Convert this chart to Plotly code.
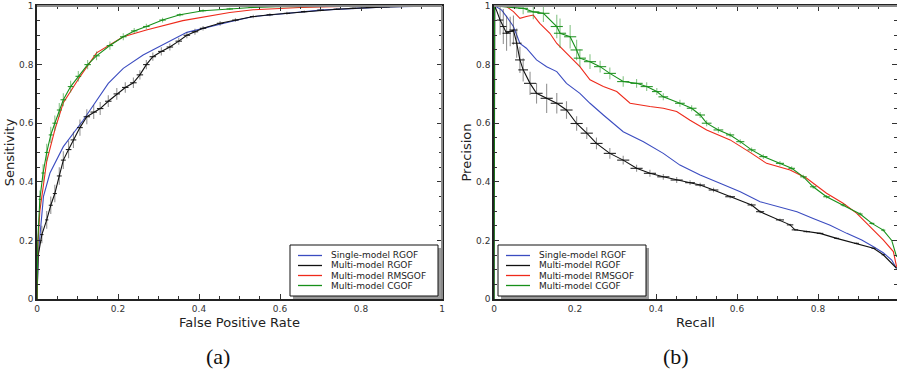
import plotly.graph_objects as go

# ---------------- data: ROC (panel a) ----------------
roc_blue_fpr = [0, 0.003, 0.016, 0.032, 0.065, 0.114, 0.176, 0.213, 0.262, 0.37, 0.477, 0.534, 0.70, 0.863, 1.0]
roc_blue_sens = [0, 0.15, 0.35, 0.43, 0.52, 0.61, 0.736, 0.787, 0.833, 0.91, 0.946, 0.964, 0.986, 0.997, 1.0]

roc_black_fpr = [0, 0.003, 0.012, 0.024, 0.034, 0.044, 0.055, 0.065, 0.078, 0.09, 0.106, 0.123, 0.14, 0.156, 0.176, 0.197,
                 0.218, 0.238, 0.254, 0.27, 0.286, 0.307, 0.328, 0.35, 0.37, 0.39, 0.41, 0.452, 0.49, 0.534, 0.575,
                 0.617, 0.66, 0.70, 0.74, 0.78, 0.82, 0.863, 0.93, 1.0]
roc_black_sens = [0, 0.15, 0.22, 0.27, 0.32, 0.36, 0.42, 0.474, 0.51, 0.543, 0.585, 0.622, 0.638, 0.65, 0.675, 0.70,
                  0.722, 0.738, 0.765, 0.80, 0.827, 0.845, 0.86, 0.88, 0.90, 0.912, 0.924, 0.941, 0.952, 0.964, 0.97,
                  0.975, 0.981, 0.986, 0.989, 0.992, 0.995, 0.997, 0.999, 1.0]
roc_black_errx = [0, 0, 0.004, 0.004, 0.005, 0.005, 0.006, 0.006, 0.007, 0.007, 0.007, 0.008, 0.008, 0.008, 0.008, 0.008,
                  0.008, 0.008, 0.008, 0.008, 0.008, 0.008, 0.008, 0.008, 0.008, 0.008, 0.008, 0.008, 0.008, 0.008, 0.008,
                  0.008, 0.008, 0.008, 0.008, 0.008, 0.008, 0.008, 0, 0]
roc_black_erry = [0, 0, 0.03, 0.03, 0.03, 0.03, 0.03, 0.03, 0.03, 0.028, 0.028, 0.026, 0.024, 0.022, 0.02, 0.02,
                  0.018, 0.018, 0.016, 0.016, 0.014, 0.014, 0.012, 0.012, 0.01, 0.01, 0.008, 0.008, 0.006, 0.006, 0.005,
                  0.005, 0.004, 0.004, 0.003, 0.003, 0.002, 0.002, 0, 0]

roc_red_fpr = [0, 0.002, 0.007, 0.024, 0.044, 0.065, 0.102, 0.147, 0.213, 0.27, 0.36, 0.476, 0.534, 0.65, 0.78, 1.0]
roc_red_sens = [0, 0.18, 0.30, 0.47, 0.577, 0.67, 0.75, 0.84, 0.895, 0.918, 0.95, 0.978, 0.987, 0.995, 0.999, 1.0]

roc_green_fpr = [0, 0.002, 0.007, 0.015, 0.024, 0.034, 0.044, 0.055, 0.065, 0.083, 0.102, 0.125, 0.147, 0.18, 0.213,
                 0.24, 0.27, 0.31, 0.353, 0.41, 0.476, 0.53, 0.59, 0.8, 1.0]
roc_green_sens = [0, 0.2, 0.34, 0.43, 0.50, 0.56, 0.60, 0.645, 0.68, 0.725, 0.76, 0.80, 0.83, 0.865, 0.895,
                  0.915, 0.93, 0.952, 0.97, 0.984, 0.99, 0.995, 0.998, 1.0, 1.0]
roc_green_errx = [0, 0, 0.003, 0.004, 0.005, 0.005, 0.006, 0.006, 0.007, 0.007, 0.007, 0.008, 0.008, 0.008, 0.008,
                  0.008, 0.008, 0.008, 0.008, 0.008, 0.008, 0.008, 0, 0, 0]
roc_green_erry = [0, 0, 0.03, 0.03, 0.03, 0.028, 0.026, 0.024, 0.022, 0.02, 0.018, 0.016, 0.015, 0.014, 0.012,
                  0.01, 0.009, 0.008, 0.006, 0.005, 0.004, 0.003, 0, 0, 0]

# ---------------- data: Precision-Recall (panel b) ----------------
pr_blue_rec = [0.003, 0.019, 0.031, 0.048, 0.064, 0.08, 0.105, 0.13, 0.155, 0.179, 0.212, 0.237, 0.27, 0.319, 0.369,
               0.418, 0.459, 0.509, 0.558, 0.608, 0.657, 0.706, 0.748, 0.788, 0.83, 0.871, 0.908, 0.937, 0.961, 0.982, 0.994]
pr_blue_prec = [1.0, 0.986, 0.964, 0.93, 0.872, 0.856, 0.816, 0.793, 0.776, 0.736, 0.702, 0.668, 0.628, 0.571, 0.537,
                0.497, 0.457, 0.423, 0.395, 0.366, 0.332, 0.315, 0.298, 0.275, 0.252, 0.224, 0.201, 0.178, 0.158, 0.133, 0.104]

pr_black_rec = [0, 0.002, 0.006, 0.015, 0.023, 0.031, 0.04, 0.048, 0.056, 0.064, 0.072, 0.089, 0.105, 0.13, 0.155,
                0.179, 0.204, 0.229, 0.253, 0.286, 0.319, 0.352, 0.385, 0.418, 0.451, 0.484, 0.509, 0.542, 0.583,
                0.636, 0.657, 0.706, 0.731, 0.743, 0.772, 0.805, 0.846, 0.895, 0.937, 0.961, 0.982, 0.994]
pr_black_prec = [0, 1.0, 0.986, 0.952, 0.93, 0.907, 0.913, 0.918, 0.873, 0.816, 0.782, 0.736, 0.702, 0.685, 0.668,
                 0.645, 0.599, 0.566, 0.531, 0.497, 0.474, 0.446, 0.429, 0.417, 0.406, 0.397, 0.389, 0.372, 0.349,
                 0.321, 0.298, 0.27, 0.253, 0.236, 0.23, 0.224, 0.207, 0.19, 0.173, 0.151, 0.122, 0.105]
pr_black_errx = [0, 0, 0, 0.008, 0.008, 0.01, 0.01, 0.01, 0.012, 0.012, 0.012, 0.015, 0.015, 0.015, 0.015,
                 0.015, 0.015, 0.015, 0.015, 0.015, 0.015, 0.015, 0.015, 0.015, 0.015, 0.012, 0.012, 0.012, 0.012,
                 0.01, 0.01, 0.01, 0.008, 0.008, 0.008, 0.008, 0.006, 0.006, 0.005, 0.004, 0, 0]
pr_black_erry = [0, 0, 0, 0.05, 0.06, 0.06, 0.05, 0.05, 0.05, 0.045, 0.04, 0.04, 0.035, 0.05, 0.035,
                 0.03, 0.025, 0.02, 0.02, 0.018, 0.015, 0.012, 0.012, 0.01, 0.01, 0.008, 0.008, 0.008, 0.006,
                 0.006, 0.005, 0.005, 0.004, 0.004, 0.004, 0.003, 0.003, 0.003, 0.002, 0.002, 0, 0]

pr_red_rec = [0.003, 0.031, 0.048, 0.064, 0.08, 0.097, 0.113, 0.138, 0.155, 0.188, 0.212, 0.237, 0.27, 0.303, 0.336,
              0.385, 0.418, 0.451, 0.484, 0.525, 0.583, 0.636, 0.673, 0.731, 0.772, 0.821, 0.862, 0.895, 0.928, 0.961,
              0.986, 0.994]
pr_red_prec = [1.0, 0.998, 0.981, 0.958, 0.964, 0.969, 0.941, 0.907, 0.872, 0.827, 0.793, 0.748, 0.725, 0.708, 0.668,
               0.657, 0.651, 0.64, 0.61, 0.577, 0.543, 0.497, 0.463, 0.44, 0.412, 0.361, 0.327, 0.293, 0.247, 0.202,
               0.162, 0.11]

pr_green_rec = [0, 0.001, 0.072, 0.097, 0.122, 0.155, 0.163, 0.188, 0.204, 0.212, 0.237, 0.262, 0.286, 0.319, 0.352,
                0.377, 0.402, 0.418, 0.459, 0.488, 0.509, 0.525, 0.554, 0.583, 0.608, 0.636, 0.665, 0.706, 0.735, 0.764,
                0.788, 0.821, 0.862, 0.904, 0.933, 0.961, 0.982, 0.994]
pr_green_prec = [0, 1.0, 0.992, 0.98, 0.975, 0.93, 0.907, 0.895, 0.85, 0.822, 0.81, 0.793, 0.77, 0.742, 0.736,
                 0.725, 0.708, 0.69, 0.668, 0.651, 0.628, 0.6, 0.577, 0.56, 0.537, 0.509, 0.486, 0.463, 0.446, 0.417,
                 0.383, 0.349, 0.321, 0.29, 0.258, 0.235, 0.2, 0.144]
pr_green_errx = [0, 0, 0.012, 0.015, 0.015, 0.015, 0.015, 0.015, 0.015, 0.015, 0.015, 0.015, 0.015, 0.015, 0.015,
                 0.015, 0.012, 0.012, 0.012, 0.012, 0.012, 0.012, 0.012, 0.01, 0.01, 0.01, 0.01, 0.01, 0.008, 0.008,
                 0.008, 0.008, 0.006, 0.006, 0.006, 0.005, 0, 0]
pr_green_erry = [0, 0, 0.02, 0.025, 0.03, 0.04, 0.05, 0.04, 0.035, 0.03, 0.025, 0.02, 0.02, 0.018, 0.015,
                 0.015, 0.012, 0.012, 0.012, 0.01, 0.01, 0.01, 0.01, 0.008, 0.008, 0.008, 0.008, 0.008, 0.007, 0.007,
                 0.007, 0.006, 0.006, 0.006, 0.005, 0.005, 0, 0]

legend_names = ["Single-model RGOF", "Multi-model RGOF", "Multi-model RMSGOF", "Multi-model CGOF"]
axis_ticks = [0, 0.2, 0.4, 0.6, 0.8, 1]
captions = ["(a)", "(b)"]

# ---------------- styles ----------------
C_BLUE = "#3b4cc0"
C_BLACK = "#111111"
C_RED = "#ee2a1b"
C_GREEN = "#17901a"
legend_colors = [C_BLUE, C_BLACK, C_RED, C_GREEN]
FONT = "DejaVu Sans"

W, H = 897, 372
L_X = (37 / W, 442 / W)
R_X = (494 / W, 1.0)
Y_D = ((H - 299) / H, (H - 6) / H)


def px(x):
    return x / W


def py(y):
    return (H - y) / H


fig = go.Figure()


def add(x, y, color, xa, ya, ex=None, ey=None, ecx=None, ecy=None):
    kw = {}
    if ex is not None:
        kw["error_x"] = dict(type="data", array=ex, color=ecx, thickness=1.1, width=0)
        kw["error_y"] = dict(type="data", array=ey, color=ecy, thickness=1.1, width=0)
    fig.add_trace(go.Scatter(x=x, y=y, mode="lines", line=dict(color=color, width=1.1),
                             xaxis=xa, yaxis=ya, showlegend=False, hoverinfo="skip", **kw))


add(roc_blue_fpr, roc_blue_sens, C_BLUE, "x", "y")
add(roc_black_fpr, roc_black_sens, C_BLACK, "x", "y",
    roc_black_errx, roc_black_erry, "rgba(0,0,0,0.85)", "rgba(60,60,60,0.55)")
add(roc_red_fpr, roc_red_sens, C_RED, "x", "y")
add(roc_green_fpr, roc_green_sens, C_GREEN, "x", "y",
    roc_green_errx, roc_green_erry, "rgba(20,140,20,0.9)", "rgba(40,150,40,0.55)")

add(pr_blue_rec, pr_blue_prec, C_BLUE, "x2", "y2")
add(pr_black_rec, pr_black_prec, C_BLACK, "x2", "y2",
    pr_black_errx, pr_black_erry, "rgba(0,0,0,0.85)", "rgba(60,60,60,0.55)")
add(pr_red_rec, pr_red_prec, C_RED, "x2", "y2")
add(pr_green_rec, pr_green_prec, C_GREEN, "x2", "y2",
    pr_green_errx, pr_green_erry, "rgba(20,140,20,0.9)", "rgba(40,150,40,0.55)")

axis_common = dict(
    showgrid=False, zeroline=False, showline=True, linecolor="#222", linewidth=1.5,
    mirror="ticks", ticks="inside", ticklen=5, tickcolor="#333", tickwidth=1,
    tickvals=axis_ticks, ticktext=[str(t) for t in axis_ticks],
    tickfont=dict(family=FONT, size=9, color="#333"),
    minor=dict(ticks="inside", dtick=0.05, ticklen=3, tickcolor="#333"),
    automargin=False, fixedrange=True,
)
title_font = dict(family=FONT, size=13, color="#222")

fig.update_layout(
    width=W, height=H, margin=dict(l=0, r=0, t=0, b=0),
    paper_bgcolor="white", plot_bgcolor="white", template="none", showlegend=False,
    xaxis=dict(domain=L_X, range=[0, 1], anchor="y",
               title=dict(text="False Positive Rate", font=title_font, standoff=5), **axis_common),
    yaxis=dict(domain=Y_D, range=[0, 1], anchor="x",
               title=dict(text="Sensitivity", font=title_font, standoff=2), **axis_common),
    xaxis2=dict(domain=R_X, range=[0, 0.995], anchor="y2",
                title=dict(text="Recall", font=title_font, standoff=5), **axis_common),
    yaxis2=dict(domain=Y_D, range=[0, 1], anchor="x2",
                title=dict(text="Precision", font=title_font, standoff=2), **axis_common),
)

shapes = []
# grey top / right frame edges
for x0, x1 in ((37, 442), (494, 897)):
    shapes.append(dict(type="line", xref="paper", yref="paper", x0=px(x0), x1=px(x1), y0=py(6), y1=py(6),
                       line=dict(color="#8a8a8a", width=2)))
shapes.append(dict(type="line", xref="paper", yref="paper", x0=px(442), x1=px(442), y0=py(6), y1=py(299),
                   line=dict(color="#8a8a8a", width=2)))

# hand-placed legends (box, shadow, sample lines, labels)
annotations = []
for bx in (290, 498):
    bx1, by0, by1 = bx + 148, 245, 296
    shapes.append(dict(type="rect", xref="paper", yref="paper", x0=px(bx + 3), x1=px(bx1 + 3),
                       y0=py(by1 + 3), y1=py(by0 + 3), fillcolor="#9a9a9a", line=dict(width=0), layer="above"))
    shapes.append(dict(type="rect", xref="paper", yref="paper", x0=px(bx), x1=px(bx1),
                       y0=py(by1), y1=py(by0), fillcolor="white", line=dict(color="#111", width=1), layer="above"))
    for i, (name, col) in enumerate(zip(legend_names, legend_colors)):
        ry = 255.5 + i * 10
        shapes.append(dict(type="line", xref="paper", yref="paper", x0=px(bx + 8), x1=px(bx + 32),
                           y0=py(ry), y1=py(ry), line=dict(color=col, width=1.3), layer="above"))
        annotations.append(dict(text=name, x=px(bx + 39), y=py(ry), xref="paper", yref="paper",
                                xanchor="left", yanchor="middle", showarrow=False,
                                font=dict(family=FONT, size=9, color="#222")))

for lab, cx in zip(captions, (218, 676)):
    annotations.append(dict(text=lab, x=px(cx), y=py(356), xref="paper", yref="paper",
                            xanchor="center", yanchor="middle", showarrow=False,
                            font=dict(family="Liberation Serif", size=22, color="#111")))

fig.update_layout(shapes=shapes, annotations=annotations)
fig.write_html("out.html")
